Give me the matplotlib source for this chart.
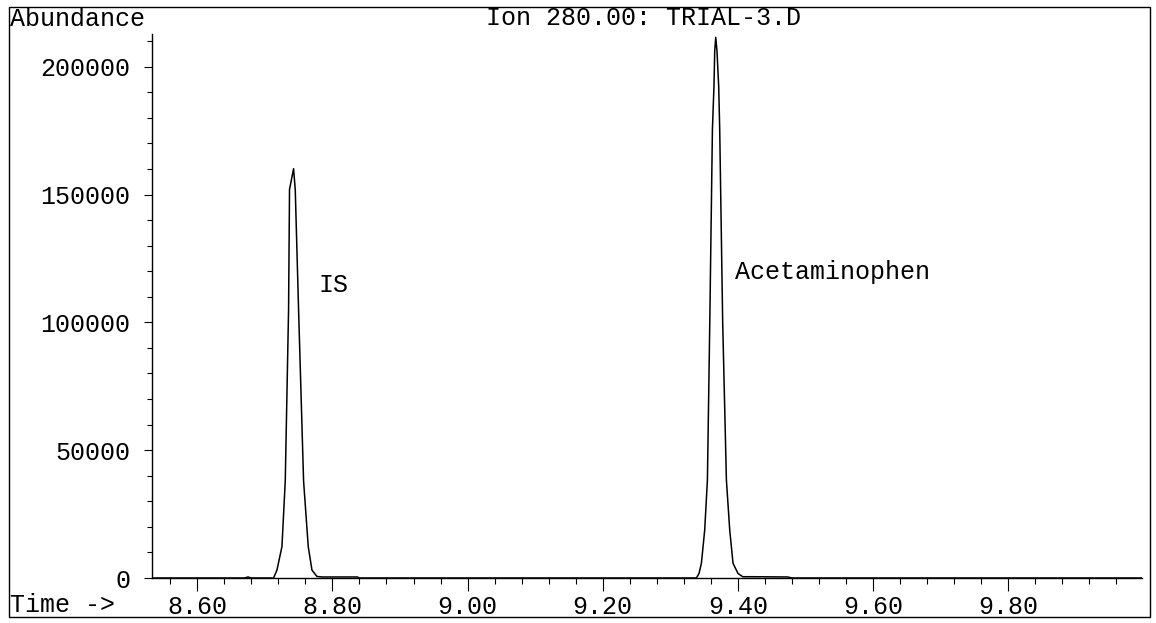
# Ion chromatogram - Ion 280.00, TRIAL-3.D
# IS and Acetaminophen peaks

import matplotlib.pyplot as plt
from matplotlib.patches import Rectangle
from matplotlib.ticker import MultipleLocator

# retention time (min) and abundance
time = [8.533, 8.600, 8.670, 8.675, 8.680, 8.7129, 8.7179, 8.7253, 8.7302,
        8.7351, 8.7365, 8.7425, 8.7450, 8.7499, 8.7573, 8.7642, 8.7697,
        8.7771, 8.7850, 8.8370, 8.8400,
        9.3300, 9.3386, 9.3425, 9.3460, 9.3509, 9.3549, 9.3584, 9.3623,
        9.3646, 9.3657, 9.3672, 9.3691, 9.3716, 9.3731, 9.3775, 9.3830,
        9.3879, 9.3928, 9.4001, 9.4071, 9.4219, 9.4737, 9.4800, 9.998]
abundance = [0, 0, 0, 400, 0, 0, 3100, 12300, 38000,
             105000, 152000, 160100, 151800, 105000, 38000, 12300, 3100,
             600, 400, 400, 0,
             0, 0, 1800, 5750, 18800, 38300, 100000, 175400,
             192300, 206000, 211500, 206000, 192300, 175400, 100000, 38300,
             18800, 5750, 1800, 500, 500, 400, 0, 0]

peak_names = ['IS', 'Acetaminophen']
label_time = [8.779, 9.395]
label_abund = [114700, 119800]

y_ticks = [0, 50000, 100000, 150000, 200000]
x_ticks = [8.60, 8.80, 9.00, 9.20, 9.40, 9.60, 9.80]

font = 'Liberation Mono'
fs = 18

fig = plt.figure(figsize=(11.56, 6.23), dpi=100)
ax = fig.add_axes([152 / 1156, 45 / 623, 990 / 1156, 544 / 623])

ax.plot(time, abundance, color='black', linewidth=1.1)

for name, t, a in zip(peak_names, label_time, label_abund):
    ax.text(t, a, name, fontfamily=font, fontsize=fs, va='center', ha='left')

ax.set_xlim(8.533, 9.998)
ax.set_ylim(0, 212800)

ax.set_xticks(x_ticks)
ax.set_xticklabels(['%.2f' % v for v in x_ticks])
ax.xaxis.set_minor_locator(MultipleLocator(0.04))
ax.set_yticks(y_ticks)
ax.set_yticklabels([str(v) for v in y_ticks])
ax.yaxis.set_minor_locator(MultipleLocator(10000))

ax.spines['top'].set_visible(False)
ax.spines['right'].set_visible(False)
ax.spines['left'].set_linewidth(1.0)
ax.spines['bottom'].set_linewidth(1.0)

ax.tick_params(axis='x', which='major', direction='out', length=9.5, width=0.8, pad=3)
ax.tick_params(axis='x', which='minor', direction='out', length=4.5, width=0.8)
ax.tick_params(axis='y', which='major', direction='out', length=5.5, width=0.8, pad=10)
ax.tick_params(axis='y', which='minor', direction='out', length=3.5, width=0.8)
for lbl in ax.get_xticklabels() + ax.get_yticklabels():
    lbl.set_fontfamily(font)
    lbl.set_fontsize(fs)

# header and axis captions
fig.text(10 / 1156, 1 - 19 / 623, 'Abundance', fontfamily=font, fontsize=fs,
         ha='left', va='center')
fig.text(643 / 1156, 1 - 18 / 623, 'Ion 280.00: TRIAL-3.D', fontfamily=font,
         fontsize=fs, ha='center', va='center')
fig.text(10 / 1156, 1 - 605 / 623, 'Time ->', fontfamily=font, fontsize=fs,
         ha='left', va='center')

# outer frame
fig.patches.append(Rectangle((9 / 1156, 1 - 617 / 623), 1141 / 1156, 610 / 623,
                             transform=fig.transFigure, fill=False,
                             edgecolor='black', linewidth=1.0))

plt.savefig('out.png', dpi=100)
